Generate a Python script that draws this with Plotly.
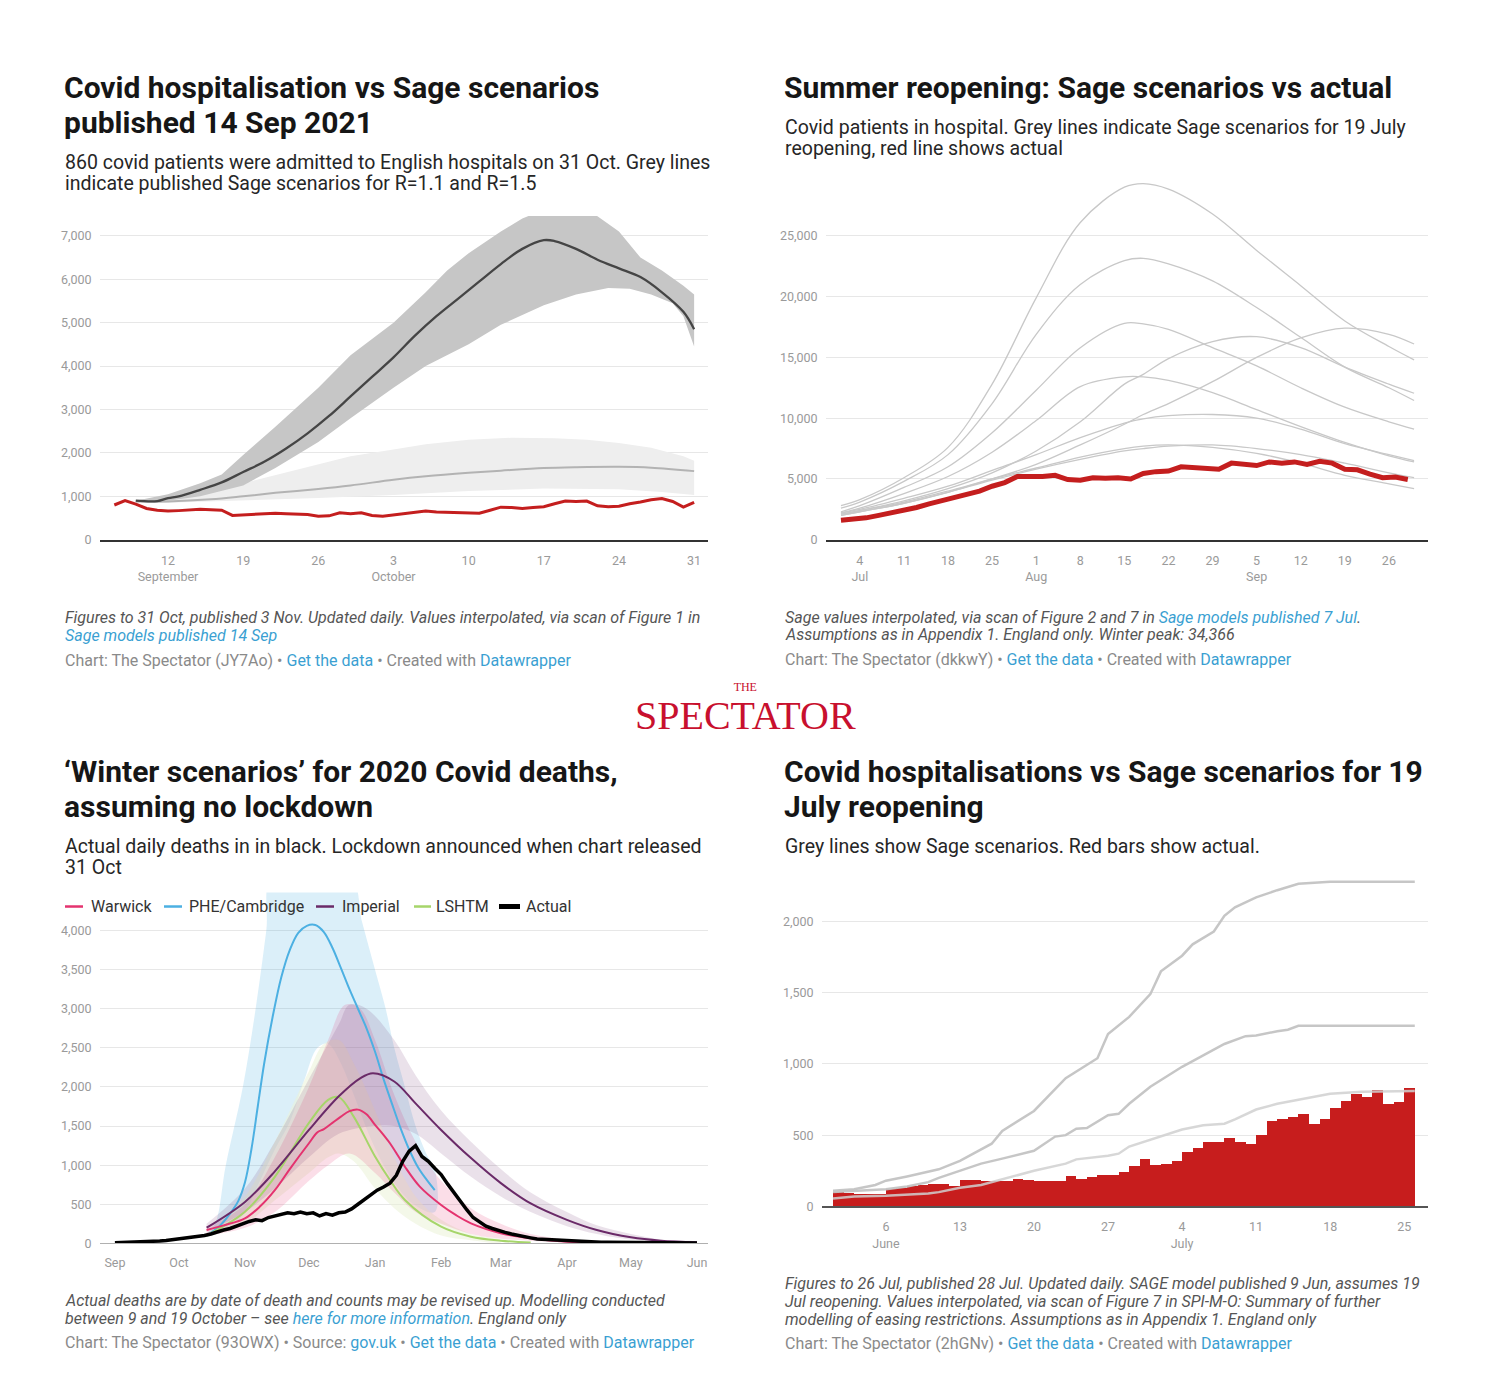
import plotly.graph_objects as go
import pandas as pd

W, H = 1508, 1397
KY = 1.0045  # small vertical correction so the rendered layout matches the reference positions
def px(x): return x / W
def py(y): return 1 - (y * KY) / H

FONT = "Roboto"
RED = "#c41e1e"
GRID = "#e7e7e7"
TICK = "#9a9a9a"
LINK = "#3a9fd2"

# ---------------- Panel 1: Sage Sep 2021 ----------------
p1_actual_start = "2021-09-07"
p1_actual = [800, 900, 820, 720, 680, 660, 670, 690, 700, 690, 680, 560, 570, 580, 600, 610, 600, 590,
             580, 540, 550, 620, 600, 620,
             560, 540, 570, 600, 640, 660, 640, 630, 620, 610, 610, 680, 750, 740, 720, 740, 760, 830,
             890, 880, 890, 780, 760, 770, 830, 870, 920, 950, 880, 750, 860]
p1_r15_dates = ["2021-09-09", "2021-09-11", "2021-09-12", "2021-09-13", "2021-09-15", "2021-09-17",
                "2021-09-19", "2021-09-21", "2021-09-23", "2021-09-25", "2021-09-27", "2021-09-29",
                "2021-10-01", "2021-10-03", "2021-10-05", "2021-10-07", "2021-10-09", "2021-10-11",
                "2021-10-13", "2021-10-15", "2021-10-17", "2021-10-18", "2021-10-20", "2021-10-22",
                "2021-10-24", "2021-10-26", "2021-10-28", "2021-10-30", "2021-10-31"]
p1_r15 = [900, 890, 960, 1000, 1150, 1320, 1560, 1800, 2100, 2450, 2850, 3300, 3750, 4200, 4700, 5150,
          5550, 5950, 6350, 6700, 6900, 6880, 6700, 6450, 6250, 6050, 5700, 5250, 4850]
p1_r15_hi_dates = ["2021-09-09", "2021-09-12", "2021-09-15", "2021-09-17", "2021-09-19", "2021-09-22",
                   "2021-09-26", "2021-09-29", "2021-10-03", "2021-10-06", "2021-10-08", "2021-10-10",
                   "2021-10-13", "2021-10-15", "2021-10-17", "2021-10-21", "2021-10-22", "2021-10-24",
                   "2021-10-26", "2021-10-28", "2021-10-30", "2021-10-31"]
p1_r15_hi = [900, 1050, 1300, 1500, 1950, 2600, 3500, 4250, 5000, 5700, 6200, 6600, 7100, 7400, 7600,
             7600, 7450, 7100, 6500, 6200, 5850, 5650]
p1_r15_lo_dates = ["2021-09-09", "2021-09-12", "2021-09-15", "2021-09-19", "2021-09-22", "2021-09-26",
                   "2021-09-29", "2021-10-03", "2021-10-06", "2021-10-10", "2021-10-13", "2021-10-17",
                   "2021-10-20", "2021-10-23", "2021-10-25", "2021-10-27", "2021-10-29", "2021-10-30",
                   "2021-10-31"]
p1_r15_lo = [880, 900, 1000, 1250, 1650, 2250, 2800, 3500, 4000, 4500, 4950, 5400, 5650, 5800, 5780,
             5650, 5450, 5150, 4450]
p1_r11_dates = ["2021-09-09", "2021-09-12", "2021-09-16", "2021-09-19", "2021-09-22", "2021-09-26",
                "2021-09-29", "2021-10-03", "2021-10-06", "2021-10-10", "2021-10-13", "2021-10-17",
                "2021-10-20", "2021-10-24", "2021-10-27", "2021-10-31"]
p1_r11 = [880, 880, 930, 1000, 1080, 1170, 1250, 1380, 1460, 1540, 1590, 1650, 1670, 1680, 1660, 1580]
p1_r11_hi_dates = ["2021-09-09", "2021-09-12", "2021-09-15", "2021-09-19", "2021-09-22", "2021-09-26",
                   "2021-09-29", "2021-10-03", "2021-10-06", "2021-10-10", "2021-10-14", "2021-10-18",
                   "2021-10-21", "2021-10-24", "2021-10-27", "2021-10-30", "2021-10-31"]
p1_r11_hi = [900, 950, 1050, 1300, 1500, 1750, 1920, 2080, 2200, 2300, 2350, 2340, 2300, 2230, 2120,
             1920, 1820]
p1_r11_lo_dates = ["2021-09-09", "2021-09-12", "2021-09-19", "2021-09-26", "2021-10-03", "2021-10-10",
                   "2021-10-17", "2021-10-24", "2021-10-28", "2021-10-31"]
p1_r11_lo = [860, 850, 900, 960, 1030, 1120, 1180, 1160, 1100, 1030]
p1_tickvals = ["2021-09-12", "2021-09-19", "2021-09-26", "2021-10-03", "2021-10-10", "2021-10-17",
               "2021-10-24", "2021-10-31"]
p1_ticktext = ["12<br>September", "19", "26", "3<br>October", "10", "17", "24", "31"]

# ---------------- Panel 2: Summer reopening ----------------
p2_dates = ["2021-07-01", "2021-07-04", "2021-07-11", "2021-07-18", "2021-07-25", "2021-08-01",
            "2021-08-08", "2021-08-15", "2021-08-18", "2021-08-22", "2021-08-29", "2021-09-05",
            "2021-09-12", "2021-09-19", "2021-09-26", "2021-09-30"]
p2_scenarios = [
    [2800, 3300, 5100, 7600, 12800, 19900, 26100, 29000, 29300, 28850, 26800, 23800, 20900, 18000, 15900, 14800],
    [2600, 3100, 4800, 7000, 11200, 16900, 21000, 22960, 23150, 22700, 21300, 19100, 16650, 14200, 12500, 11450],
    [2300, 2800, 4300, 6000, 8800, 12300, 15800, 17800, 17750, 17300, 15800, 14300, 12500, 10900, 9700, 9100],
    [2200, 2600, 3800, 5200, 7200, 9800, 12600, 13400, 13400, 13100, 12100, 10700, 9300, 8000, 6900, 6400],
    [2200, 2500, 3400, 4400, 5700, 7000, 8400, 9600, 9950, 10200, 10300, 10000, 9100, 7900, 7000, 6500],
    [2100, 2400, 3200, 4200, 5500, 7300, 9700, 12800, 13600, 14900, 16300, 16700, 15800, 14200, 12800, 12050],
    [2000, 2300, 3000, 3900, 5000, 6200, 7800, 9500, 10300, 11200, 13000, 15000, 16600, 17400, 16900, 16100],
    [2100, 2400, 3100, 4000, 5000, 5900, 6800, 7500, 7700, 7800, 7600, 7100, 6300, 5300, 4600, 4200],
    [2000, 2300, 3000, 3900, 4900, 5800, 6600, 7300, 7500, 7700, 7800, 7500, 7000, 6300, 5500, 5100],
]
p2_actual_start = "2021-07-01"
p2_actual = [1600, 1650, 1800, 2000, 2200, 2400, 2650, 2950, 3200, 3450, 3650, 4000, 4400, 4700, 5200, 5150,
             5200, 5300, 4950, 4900, 5100, 5050, 5100, 5000, 5450, 5600, 5650, 6000, 5950, 5900, 5800,
             6300, 6250, 6100, 6400, 6300, 6400, 6200, 6450, 6300, 5800, 5750, 5400, 5100, 5150, 4950]
p2_tickvals = ["2021-07-04", "2021-07-11", "2021-07-18", "2021-07-25", "2021-08-01", "2021-08-08",
               "2021-08-15", "2021-08-22", "2021-08-29", "2021-09-05", "2021-09-12", "2021-09-19",
               "2021-09-26"]
p2_ticktext = ["4<br>Jul", "11", "18", "25", "1<br>Aug", "8", "15", "22", "29", "5<br>Sep", "12", "19", "26"]

# ---------------- Panel 3: Winter scenarios 2020 ----------------
p3_phe_dates = ["2020-10-14", "2020-10-20", "2020-10-25", "2020-10-29", "2020-11-01", "2020-11-04",
                "2020-11-07", "2020-11-10", "2020-11-14", "2020-11-18", "2020-11-22", "2020-11-26",
                "2020-11-30", "2020-12-04", "2020-12-08", "2020-12-12", "2020-12-16", "2020-12-20",
                "2020-12-24", "2020-12-28", "2021-01-01", "2021-01-05", "2021-01-09", "2021-01-13",
                "2021-01-17", "2021-01-21", "2021-01-25", "2021-01-29"]
p3_phe = [100, 220, 380, 550, 780, 1200, 1750, 2300, 2900, 3400, 3750, 3970, 4060, 4070, 3980, 3780,
          3520, 3250, 3000, 2750, 2450, 2100, 1780, 1470, 1200, 980, 820, 680]
p3_phe_hi_dates = ["2020-10-14", "2020-10-18", "2020-10-23", "2020-10-31", "2020-11-06", "2020-11-11",
                   "2020-11-14", "2020-12-20", "2020-12-26", "2021-01-01", "2021-01-06", "2021-01-10",
                   "2021-01-15", "2021-01-20", "2021-01-25", "2021-01-29"]
p3_phe_hi = [130, 250, 1000, 2000, 3000, 4000, 4700, 4700, 4100, 3500, 3000, 2500, 2000, 1500, 1150, 950]
p3_phe_lo_dates = ["2020-10-14", "2020-10-25", "2020-11-01", "2020-11-08", "2020-11-15", "2020-11-22",
                   "2020-11-29", "2020-12-05", "2020-12-10", "2020-12-16", "2020-12-22", "2020-12-29",
                   "2021-01-05", "2021-01-12", "2021-01-19", "2021-01-29"]
p3_phe_lo = [80, 200, 400, 800, 1200, 1550, 2100, 2500, 2550, 2300, 1900, 1400, 1000, 700, 500, 400]

p3_war_dates = ["2020-10-14", "2020-10-22", "2020-11-01", "2020-11-08", "2020-11-15", "2020-11-22",
                "2020-12-01", "2020-12-05", "2020-12-08", "2020-12-12", "2020-12-16", "2020-12-20",
                "2020-12-24", "2020-12-28", "2021-01-01", "2021-01-04", "2021-01-08", "2021-01-12",
                "2021-01-15", "2021-01-22", "2021-02-01", "2021-02-08", "2021-02-15", "2021-03-01",
                "2021-03-15", "2021-04-01", "2021-04-15"]
p3_war = [170, 230, 320, 470, 680, 950, 1280, 1420, 1460, 1540, 1620, 1690, 1710, 1650, 1515, 1420,
          1280, 1110, 980, 725, 490, 360, 256, 130, 64, 20, 8]
p3_war_hi_dates = ["2020-10-14", "2020-11-01", "2020-11-15", "2020-12-01", "2020-12-10", "2020-12-18",
                   "2020-12-25", "2021-01-01", "2021-01-10", "2021-01-20", "2021-02-01", "2021-02-15",
                   "2021-03-01", "2021-03-15", "2021-04-01", "2021-04-20"]
p3_war_hi = [200, 500, 1100, 2000, 2600, 3050, 3000, 2600, 1900, 1300, 800, 450, 250, 120, 50, 10]
p3_war_lo_dates = ["2020-10-14", "2020-11-01", "2020-11-15", "2020-12-01", "2020-12-10", "2020-12-20",
                   "2021-01-01", "2021-01-10", "2021-01-20", "2021-02-01", "2021-02-15", "2021-03-01",
                   "2021-04-01", "2021-04-20"]
p3_war_lo = [100, 200, 400, 800, 1000, 1150, 900, 650, 400, 250, 120, 60, 10, 0]

p3_imp_dates = ["2020-10-14", "2020-11-01", "2020-11-15", "2020-12-01", "2020-12-15", "2020-12-25",
                "2020-12-31", "2021-01-10", "2021-01-20", "2021-02-01", "2021-02-15", "2021-03-01",
                "2021-03-15", "2021-04-01", "2021-04-15", "2021-05-01", "2021-05-15", "2021-06-01"]
p3_imp = [200, 530, 920, 1450, 1880, 2110, 2175, 2070, 1790, 1450, 1090, 770, 510, 300, 170, 77, 34, 13]
p3_imp_hi_dates = ["2020-10-14", "2020-11-01", "2020-11-15", "2020-12-01", "2020-12-15", "2020-12-20",
                   "2020-12-28", "2021-01-10", "2021-01-20", "2021-02-01", "2021-02-15", "2021-03-01",
                   "2021-03-15", "2021-04-01", "2021-04-15", "2021-05-01", "2021-05-15", "2021-06-01"]
p3_imp_hi = [250, 700, 1300, 2100, 2800, 3050, 3000, 2600, 2150, 1700, 1300, 950, 650, 400, 230, 120, 50, 20]
p3_imp_lo_dates = ["2020-10-14", "2020-11-01", "2020-11-15", "2020-12-01", "2020-12-15", "2020-12-31",
                   "2021-01-10", "2021-01-20", "2021-02-01", "2021-02-15", "2021-03-01", "2021-03-15",
                   "2021-04-01", "2021-04-15", "2021-05-01", "2021-06-01"]
p3_imp_lo = [150, 400, 700, 1100, 1400, 1500, 1500, 1400, 1150, 850, 600, 400, 220, 120, 50, 10]

p3_lsh_dates = ["2020-10-14", "2020-11-01", "2020-11-15", "2020-12-01", "2020-12-10", "2020-12-15",
                "2020-12-22", "2021-01-01", "2021-01-08", "2021-01-15", "2021-02-01", "2021-02-15",
                "2021-03-01", "2021-03-15"]
p3_lsh = [100, 405, 850, 1540, 1835, 1870, 1620, 1110, 810, 555, 213, 85, 34, 10]
p3_lsh_hi_dates = ["2020-10-14", "2020-11-01", "2020-11-15", "2020-12-01", "2020-12-08", "2020-12-15",
                   "2020-12-22", "2021-01-01", "2021-01-10", "2021-01-20", "2021-02-01", "2021-02-15",
                   "2021-03-01"]
p3_lsh_hi = [120, 600, 1300, 2200, 2550, 2600, 2300, 1700, 1100, 600, 300, 120, 40]
p3_lsh_lo_dates = ["2020-10-14", "2020-11-01", "2020-11-15", "2020-12-01", "2020-12-10", "2020-12-15",
                   "2020-12-22", "2021-01-01", "2021-01-10", "2021-01-20", "2021-02-01", "2021-02-15",
                   "2021-03-01"]
p3_lsh_lo = [80, 250, 550, 900, 1100, 1150, 1050, 700, 450, 250, 100, 40, 10]

p3_actual_start = "2020-09-01"   # every 3 days
p3_actual = [8, 10, 12, 15, 14, 20, 25, 30, 35, 45,
             55, 60, 70, 85, 100, 120, 150, 170, 190, 220, 260,
             280, 300, 290, 330, 350, 370, 390, 380, 400, 380,
             390, 350, 380, 360, 390, 400, 440, 500, 560, 620,
             680, 720, 770, 870, 1050, 1180, 1250, 1110, 1050, 960,
             880, 760, 650, 530, 430, 330, 270, 220, 190, 160,
             140, 120, 100, 80, 70, 55, 50, 45, 40, 35,
             30, 25, 22, 20, 18, 15, 14, 12, 12, 10,
             10, 9, 8, 8, 7, 7, 6, 6, 5, 5,
             5]
p3_tickvals = ["2020-09-01", "2020-10-01", "2020-11-01", "2020-12-01", "2021-01-01", "2021-02-01",
               "2021-03-01", "2021-04-01", "2021-05-01", "2021-06-01"]
p3_ticktext = ["Sep", "Oct", "Nov", "Dec", "Jan", "Feb", "Mar", "Apr", "May", "Jun"]
p3_legend_names = ["Warwick", "PHE/Cambridge", "Imperial", "LSHTM", "Actual"]
p3_colors = {"Warwick": "#e4336f", "PHE/Cambridge": "#4cb0e2", "Imperial": "#6a2a68",
             "LSHTM": "#a6d56a", "Actual": "#000000"}

# ---------------- Panel 4: 19 July reopening ----------------
p4_actual_start = "2021-06-01"
p4_actual = [100, 95, 85, 85, 85, 120, 130, 140, 150, 155, 160, 140, 185, 185, 180, 175, 180, 195, 185, 175,
             180, 180, 215, 195, 205, 220, 220, 240, 280, 330,
             290, 300, 320, 380, 410, 450, 455, 480, 450, 440, 500, 600, 610, 630, 650, 580, 610, 690, 740,
             790, 770, 820, 720, 730, 830]
p4_hi_dates = ["2021-06-01", "2021-06-03", "2021-06-05", "2021-06-06", "2021-06-08", "2021-06-10",
               "2021-06-11", "2021-06-13", "2021-06-15", "2021-06-16", "2021-06-17", "2021-06-20",
               "2021-06-23", "2021-06-26", "2021-06-27", "2021-06-29", "2021-07-01", "2021-07-02",
               "2021-07-04", "2021-07-05", "2021-07-07", "2021-07-08", "2021-07-09", "2021-07-11",
               "2021-07-13", "2021-07-15", "2021-07-18", "2021-07-26"]
p4_hi = [110, 120, 150, 180, 210, 240, 260, 320, 400, 440, 530, 670, 900, 1040, 1210, 1330, 1490, 1650,
         1760, 1840, 1930, 2040, 2100, 2170, 2220, 2265, 2280, 2280]
p4_mid_dates = ["2021-06-01", "2021-06-06", "2021-06-08", "2021-06-10", "2021-06-11", "2021-06-13",
                "2021-06-15", "2021-06-17", "2021-06-20", "2021-06-22", "2021-06-23", "2021-06-24",
                "2021-06-25", "2021-06-27", "2021-06-28", "2021-06-29", "2021-07-01", "2021-07-04",
                "2021-07-06", "2021-07-08", "2021-07-10", "2021-07-11", "2021-07-13", "2021-07-14",
                "2021-07-15", "2021-07-26"]
p4_mid = [100, 120, 140, 170, 200, 250, 300, 335, 390, 490, 500, 545, 550, 640, 650, 720, 840, 980, 1060,
          1140, 1195, 1200, 1230, 1240, 1268, 1268]
p4_lo_dates = ["2021-06-01", "2021-06-03", "2021-06-06", "2021-06-10", "2021-06-11", "2021-06-13",
               "2021-06-15", "2021-06-17", "2021-06-20", "2021-06-23", "2021-06-24", "2021-06-27",
               "2021-06-28", "2021-06-29", "2021-07-01", "2021-07-04", "2021-07-06", "2021-07-08",
               "2021-07-09", "2021-07-11", "2021-07-13", "2021-07-15", "2021-07-18", "2021-07-21",
               "2021-07-26"]
p4_lo = [55, 70, 75, 90, 100, 130, 150, 190, 250, 300, 330, 355, 370, 420, 470, 540, 570, 580, 610, 680,
         720, 750, 790, 805, 810]
p4_tickvals = ["2021-06-06", "2021-06-13", "2021-06-20", "2021-06-27", "2021-07-04", "2021-07-11",
               "2021-07-18", "2021-07-25"]
p4_ticktext = ["6<br>June", "13", "20", "27", "4<br>July", "11", "18", "25"]

# ================= figure =================
fig = go.Figure()

def band(xs_hi, ys_hi, xs_lo, ys_lo, color, ax, shape="linear"):
    fig.add_trace(go.Scatter(x=list(xs_hi) + list(xs_lo)[::-1], y=list(ys_hi) + list(ys_lo)[::-1],
                             fill="toself", fillcolor=color, line=dict(width=0, shape=shape),
                             mode="lines", hoverinfo="skip", xaxis="x" + ax, yaxis="y" + ax))

def line(xs, ys, color, width, ax, shape="linear"):
    fig.add_trace(go.Scatter(x=xs, y=ys, mode="lines", line=dict(color=color, width=width, shape=shape),
                             xaxis="x" + ax, yaxis="y" + ax))

# Panel 1 (axis '')
band(p1_r11_hi_dates, p1_r11_hi, p1_r11_lo_dates, p1_r11_lo, "#eeeeee", "")
band(p1_r15_hi_dates, p1_r15_hi, p1_r15_lo_dates, p1_r15_lo, "#c6c6c6", "")
line(p1_r11_dates, p1_r11, "#b3b3b3", 2, "", "spline")
line(p1_r15_dates, p1_r15, "#454545", 2.3, "", "spline")
line(pd.date_range(p1_actual_start, periods=len(p1_actual), freq="D"), p1_actual, RED, 3, "")

# Panel 2
for s in p2_scenarios:
    line(p2_dates, s, "#c8c8c8", 1.3, "2", "spline")
line(pd.date_range(p2_actual_start, periods=len(p2_actual), freq="2D"), p2_actual, RED, 5, "2")

# Panel 3
band(p3_phe_hi_dates, p3_phe_hi, p3_phe_lo_dates, p3_phe_lo, "rgba(76,176,226,0.20)", "3", "spline")
band(p3_lsh_hi_dates, p3_lsh_hi, p3_lsh_lo_dates, p3_lsh_lo, "rgba(235,242,215,0.55)", "3", "spline")
band(p3_war_hi_dates, p3_war_hi, p3_war_lo_dates, p3_war_lo, "rgba(228,51,111,0.16)", "3", "spline")
band(p3_imp_hi_dates, p3_imp_hi, p3_imp_lo_dates, p3_imp_lo, "rgba(106,42,104,0.14)", "3", "spline")
line(p3_phe_dates, p3_phe, p3_colors["PHE/Cambridge"], 2, "3", "spline")
line(p3_lsh_dates, p3_lsh, p3_colors["LSHTM"], 2, "3", "spline")
line(p3_war_dates, p3_war, p3_colors["Warwick"], 2, "3", "spline")
line(p3_imp_dates, p3_imp, p3_colors["Imperial"], 2, "3", "spline")
line(pd.date_range(p3_actual_start, periods=len(p3_actual), freq="3D"), p3_actual, "#000000", 3.5, "3")

# Panel 4
fig.add_trace(go.Bar(x=pd.date_range(p4_actual_start, periods=len(p4_actual), freq="D"), y=p4_actual,
                     marker=dict(color="#c71d1d", line=dict(width=0)), offset=0, width=86400000,
                     xaxis="x4", yaxis="y4", hoverinfo="skip"))
line(p4_hi_dates, p4_hi, "rgba(195,195,195,0.95)", 2.5, "4")
line(p4_mid_dates, p4_mid, "rgba(195,195,195,0.95)", 2.5, "4")
line(p4_lo_dates, p4_lo, "rgba(208,208,208,0.85)", 2.5, "4")

# ---------------- axes ----------------
def xaxis(x0, x1, y_anchor, rng, tv, tt, lc, lw):
    return dict(domain=[px(x0), px(x1)], anchor=y_anchor, type="date", range=rng, tickmode="array",
                tickvals=tv, ticktext=tt, showgrid=False, zeroline=False, showline=True, linecolor=lc,
                linewidth=lw, ticks="outside", ticklen=8, tickcolor="rgba(0,0,0,0)",
                tickfont=dict(family=FONT, size=12.5, color=TICK), fixedrange=True)

def yaxis(y0, y1, x_anchor, rng, dtick):
    return dict(domain=[py(y1), py(y0)], anchor=x_anchor, range=rng, dtick=dtick, tickformat=",d",
                showgrid=True, gridcolor=GRID, gridwidth=1, zeroline=False, showline=False,
                ticks="outside", ticklen=5, tickcolor="rgba(0,0,0,0)",
                tickfont=dict(family=FONT, size=12.5, color=TICK), fixedrange=True)

fig.update_layout(
    xaxis=xaxis(100, 708, "y", ["2021-09-05 16:00", "2021-11-01 07:00"], p1_tickvals, p1_ticktext, "#333333", 2),
    yaxis=yaxis(216, 540, "x", [0, 7460], 1000),
    xaxis2=xaxis(826, 1428, "y2", ["2021-06-28 15:00", "2021-10-02 05:00"], p2_tickvals, p2_ticktext, "#333333", 2),
    yaxis2=yaxis(176, 540, "x2", [0, 29930], 5000),
    xaxis3=xaxis(100, 708, "y3", ["2020-08-25", "2021-06-06 04:00"], p3_tickvals, p3_ticktext, "#b0b0b0", 1),
    yaxis3=yaxis(893, 1244, "x3", [0, 4486], 500),
    xaxis4=xaxis(822, 1428, "y4", ["2021-05-30 23:00", "2021-07-27 06:00"], p4_tickvals, p4_ticktext, "#555555", 2),
    yaxis4=yaxis(870, 1207, "x4", [0, 2365], 500),
)

# ---------------- text ----------------
ann = []
def txt(x, y, s, size, color, family=FONT, anchor="left", align="left"):
    ann.append(dict(x=px(x), y=py(y), xref="paper", yref="paper", text=s, showarrow=False,
                    xanchor=anchor, yanchor="middle", align=align,
                    font=dict(family=family, size=size, color=color)))

def link(s):
    return '<span style="color:%s">%s</span>' % (LINK, s)

TC, SC, FC, BC = "#161616", "#262626", "#555555", "#8a8a8a"
TS, SS, FS, BS = 30, 19.5, 16, 16

# Panel 1
txt(62, 88, "<b>Covid hospitalisation vs Sage scenarios</b>", TS, TC)
txt(62, 123, "<b>published 14 Sep 2021</b>", TS, TC)
txt(63, 163, "860 covid patients were admitted to English hospitals on 31 Oct. Grey lines", SS, SC)
txt(63, 184, "indicate published Sage scenarios for R=1.1 and R=1.5", SS, SC)
txt(63, 618, "<i>Figures to 31 Oct, published 3 Nov. Updated daily. Values interpolated, via scan of Figure 1 in</i>", FS, FC)
txt(63, 636, "<i>" + link("Sage models published 14 Sep") + "</i>", FS, FC)
txt(63, 661, "Chart: The Spectator (JY7Ao) • " + link("Get the data") + " • Created with " + link("Datawrapper"), BS, BC)

# Panel 2
txt(782, 88, "<b>Summer reopening: Sage scenarios vs actual</b>", TS, TC)
txt(783, 128, "Covid patients in hospital. Grey lines indicate Sage scenarios for 19 July", SS, SC)
txt(783, 149, "reopening, red line shows actual", SS, SC)
txt(783, 618, "<i>Sage values interpolated, via scan of Figure 2 and 7 in " + link("Sage models published 7 Jul") + ".</i>", FS, FC)
txt(783, 635, "<i>Assumptions as in Appendix 1. England only. Winter peak: 34,366</i>", FS, FC)
txt(783, 660, "Chart: The Spectator (dkkwY) • " + link("Get the data") + " • Created with " + link("Datawrapper"), BS, BC)

# Spectator masthead (single text block, two lines)
txt(745, 709, '<span style="font-size:12px">THE</span><br><span style="font-size:40px">SPECTATOR</span>',
    29, "#c8102e", "Liberation Serif", "center", "center")

# Panel 3
txt(62, 772, "<b>‘Winter scenarios’ for 2020 Covid deaths,</b>", TS, TC)
txt(62, 807, "<b>assuming no lockdown</b>", TS, TC)
txt(63, 847, "Actual daily deaths in in black. Lockdown announced when chart released", SS, SC)
txt(63, 868, "31 Oct", SS, SC)
txt(63, 1301, "<i>Actual deaths are by date of death and counts may be revised up. Modelling conducted</i>", FS, FC)
txt(63, 1319, "<i>between 9 and 19 October – see " + link("here for more information") + ". England only</i>", FS, FC)
txt(63, 1343, "Chart: The Spectator (93OWX) • Source: " + link("gov.uk") + " • " + link("Get the data") + " • Created with " + link("Datawrapper"), BS, BC)

# Panel 3 legend
shapes = []
leg_pos = [(65, 83, 89), (164, 182, 187), (316, 334, 340), (414, 431, 434), (499, 520, 524)]
for name, (a, b, t) in zip(p3_legend_names, leg_pos):
    shapes.append(dict(type="line", xref="paper", yref="paper", x0=px(a), x1=px(b), y0=py(907), y1=py(907),
                       line=dict(color=p3_colors[name], width=5 if name == "Actual" else 2.5)))
    txt(t, 907, name, 16, "#333333")

# Panel 4
txt(782, 772, "<b>Covid hospitalisations vs Sage scenarios for 19</b>", TS, TC)
txt(782, 807, "<b>July reopening</b>", TS, TC)
txt(783, 847, "Grey lines show Sage scenarios. Red bars show actual.", SS, SC)
txt(783, 1284, "<i>Figures to 26 Jul, published 28 Jul. Updated daily. SAGE model published 9 Jun, assumes 19</i>", FS, FC)
txt(783, 1302, "<i>Jul reopening. Values interpolated, via scan of Figure 7 in SPI-M-O: Summary of further</i>", FS, FC)
txt(783, 1320, "<i>modelling of easing restrictions. Assumptions as in Appendix 1. England only</i>", FS, FC)
txt(783, 1344, "Chart: The Spectator (2hGNv) • " + link("Get the data") + " • Created with " + link("Datawrapper"), BS, BC)

fig.update_layout(
    width=W, height=H, autosize=False,
    margin=dict(l=0, r=0, t=0, b=0, pad=0),
    paper_bgcolor="white", plot_bgcolor="white",
    showlegend=False, bargap=0,
    annotations=ann, shapes=shapes,
    font=dict(family=FONT),
)

fig.write_html(
    "out.html", config={"displayModeBar": False, "staticPlot": True},
    post_script=("var d=document.documentElement,b=document.body;"
                 "d.style.margin='0';d.style.padding='0';d.style.overflow='hidden';d.style.height='1397px';"
                 "b.style.margin='0';b.style.padding='0';b.style.overflow='hidden';b.style.height='1397px';"))
